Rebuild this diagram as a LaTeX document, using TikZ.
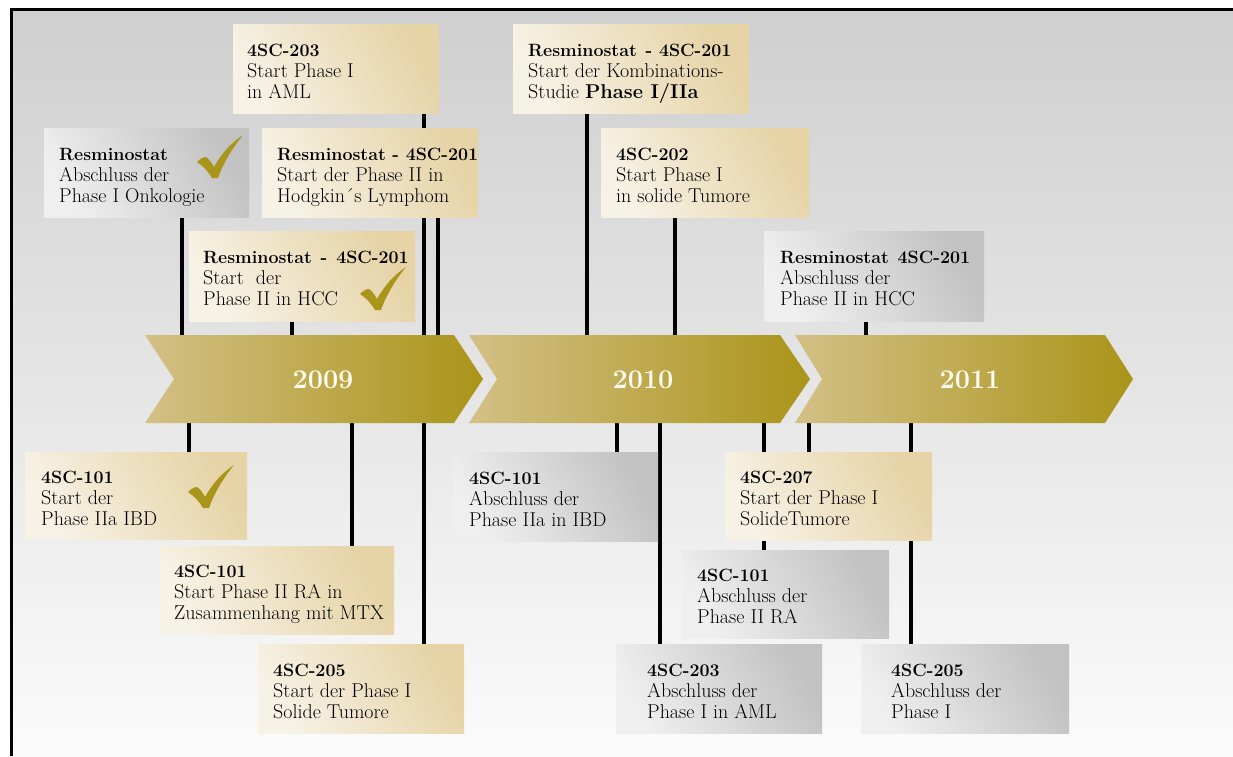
\documentclass[tikz,border=0pt]{standalone}
\usepackage{tikz}
\definecolor{bgtop}{HTML}{CFCFCF}
\definecolor{bgbot}{HTML}{FBFBFB}
\definecolor{creamD}{HTML}{E6D3A6}
\definecolor{creamL}{HTML}{F7F2E6}
\definecolor{grayD}{HTML}{C2C2C2}
\definecolor{grayL}{HTML}{EFEFEF}
\definecolor{arrowL}{HTML}{D3C086}
\definecolor{arrowR}{HTML}{AA9419}
\definecolor{checkc}{HTML}{A8951A}
\definecolor{textc}{HTML}{000000}
\definecolor{yearc}{HTML}{FFFBF0}
\pgfdeclarelayer{bg}
\pgfdeclarelayer{lines}
\pgfsetlayers{bg,lines,main}
\newcommand\fs{\rule{0pt}{22pt}}
\newcommand\ls{\rule[-5pt]{0pt}{5pt}}
\newcommand\hd[1]{{\fontsize{17.8}{21}\selectfont\bfseries #1}}
\tikzset{
  conn/.style={line width=3.2pt, black},
  creambox/.style={rectangle, inner sep=0pt, top color=creamD, bottom color=creamL, shading angle=-60},
  graybox/.style={rectangle, inner sep=0pt, top color=grayD, bottom color=grayL, shading angle=-60},
  txt/.style={align=left, inner sep=0pt, font=\fontsize{20}{21}\selectfont, text=textc},
  year/.style={font=\fontsize{27}{32}\selectfont\bfseries, text=yearc, inner sep=0pt},
  arrowband/.style={left color=arrowL, right color=arrowR},
  checkmark/.pic={\fill[checkc] (0,27) .. controls (3,24) and (6,22) .. (9,22) .. controls (12,24) and (15,28) .. (17,32) .. controls (25,18) and (34,8) .. (46,0) .. controls (37,11) and (27,26) .. (21,43) -- (15,43) .. controls (11,36) and (6,31) .. cycle;}
}
\newcommand\evt[8]{%
  \node[#6, minimum width=#4pt, minimum height=#5pt, anchor=north west] (#1) at (#2,#3) {};
  \node[txt, anchor=west, xshift=#7pt] (#1t) at (#1.west) {#8};
}
\begin{document}
\begin{tikzpicture}[x=1pt,y=-1pt]
\useasboundingbox (0,0) rectangle (1233,756);
% background
\begin{pgfonlayer}{bg}
\shade[top color=bgtop, bottom color=bgbot] (11,9) rectangle (1233,756);
\draw[line width=3pt] (11,756) -- (11,9) -- (1233,9);
\end{pgfonlayer}

% tick coordinates on the arrows
\coordinate (u1) at (182,335);
\coordinate (u2) at (292,335);
\coordinate (u3) at (424,335);
\coordinate (u4) at (438,335);
\coordinate (u5) at (587,335);
\coordinate (u6) at (675,335);
\coordinate (u7) at (866,335);
\coordinate (d1) at (189,423);
\coordinate (d2) at (352,423);
\coordinate (d3) at (424,423);
\coordinate (d4) at (617,423);
\coordinate (d5) at (660,423);
\coordinate (d6) at (764,423);
\coordinate (d7) at (809,423);
\coordinate (d8) at (911,423);

% arrows
\shade[arrowband] (145,335) -- (454,335) -- (483,379) -- (454,423) -- (145,423) -- (174,379) -- cycle;
\shade[arrowband] (469,335) -- (780,335) -- (810,379) -- (780,423) -- (469,423) -- (497,379) -- cycle;
\shade[arrowband] (795,335) -- (1105,335) -- (1133,379) -- (1105,423) -- (795,423) -- (822,379) -- cycle;
\node[year] (y2009) at (323,380) {2009};
\node[year] (y2010) at (643,380) {2010};
\node[year] (y2011) at (970,380) {2011};

% boxes
\evt{b1}{233}{24}{206}{89}{creambox}{14}{\fs\hd{4SC-203}\\Start Phase I\\in AML\ls}
\evt{b2}{44}{128}{205}{89}{graybox}{15}{\fs\hd{Resminostat}\\Abschluss der\\Phase I Onkologie\ls}
\evt{b3}{262}{128}{216}{89}{creambox}{15}{\fs\hd{Resminostat - 4SC-201}\\Start der Phase II in\\Hodgkin´s Lymphom\ls}
\evt{b4}{189}{231}{226}{90}{creambox}{14}{\fs\hd{Resminostat\enspace-\enspace4SC-201}\\Start~ der\\Phase II in HCC\ls}
\evt{b5}{513}{24}{236}{89}{creambox}{15}{\fs\hd{Resminostat\enspace- 4SC-201}\\Start der Kombinations-\\Studie \textbf{Phase I/IIa}\ls}
\evt{b6}{601}{128}{208}{89}{creambox}{15}{\fs\hd{4SC-202}\\Start Phase I\\in solide Tumore\ls}
\evt{b7}{764}{231}{220}{90}{graybox}{16}{\fs\hd{Resminostat\enspace4SC-201}\\Abschluss der\\Phase II in HCC\ls}
\evt{b8}{25}{452}{222}{87}{creambox}{16}{\fs\hd{4SC-101}\\Start der\\Phase IIa IBD\ls}
\evt{b9}{160}{546}{234}{88}{creambox}{14}{\fs\hd{4SC-101}\\Start Phase II RA in\\Zusammenhang mit MTX\ls}
\evt{b10}{258}{644}{206}{89}{creambox}{15}{\fs\hd{4SC-205}\\Start der Phase I\\Solide Tumore\ls}
\evt{b11}{453}{452}{205}{89}{graybox}{16}{\fs\hd{4SC-101}\\Abschluss der\\Phase IIa in IBD\ls}
\evt{b12}{725}{452}{207}{88}{creambox}{15}{\fs\hd{4SC-207}\\Start der Phase I\\SolideTumore\ls}
\evt{b13}{682}{550}{207}{88}{graybox}{15}{\fs\hd{4SC-101}\\Abschluss der\\Phase II RA\ls}
\evt{b14}{616}{644}{206}{89}{graybox}{31}{\fs\hd{4SC-203}\\Abschluss der\\Phase I in AML\ls}
\evt{b15}{861}{644}{208}{89}{graybox}{30}{\fs\hd{4SC-205}\\Abschluss der\\Phase I\ls}

% connectors (behind boxes and arrows)
\begin{pgfonlayer}{lines}
\draw[conn] (b2.south -| u1) -- (u1);
\draw[conn] (b4.south -| u2) -- (u2);
\draw[conn] (b1.south -| u3) -- (u3);
\draw[conn] (b3.south -| u4) -- (u4);
\draw[conn] (b5.south -| u5) -- (u5);
\draw[conn] (b6.south -| u6) -- (u6);
\draw[conn] (b7.south -| u7) -- (u7);
\draw[conn] (d1) -- (b8.north -| d1);
\draw[conn] (d2) -- (b9.north -| d2);
\draw[conn] (d3) -- (b10.north -| d3);
\draw[conn] (d4) -- (b11.north -| d4);
\draw[conn] (d5) -- (b14.north -| d5);
\draw[conn] (d6) -- (b13.north -| d6);
\draw[conn] (d7) -- (b12.north -| d7);
\draw[conn] (d8) -- (b15.north -| d8);
\end{pgfonlayer}

% check marks
\pic at (197,135) {checkmark};
\pic at (360,267) {checkmark};
\pic at (188,465) {checkmark};
\end{tikzpicture}
\end{document}
